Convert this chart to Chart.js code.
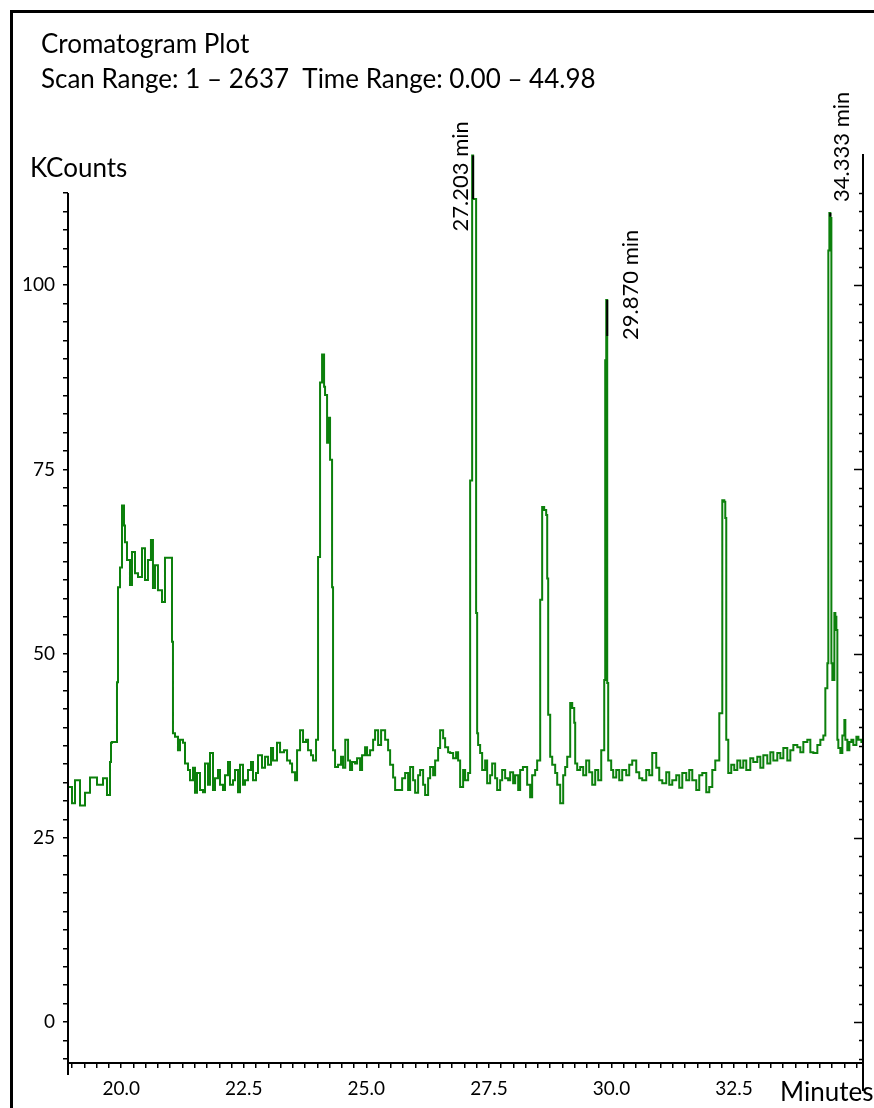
<!DOCTYPE html>
<html>
<head>
<meta charset="utf-8">
<script src="https://cdn.jsdelivr.net/npm/chart.js@4"></script>
<style>
  html, body { margin: 0; padding: 0; background: #fff; }
  #wrap { position: relative; width: 874px; height: 1108px; }
</style>
</head>
<body>
<div id="wrap"><canvas id="chart"></canvas></div>
<script>
// retention time (min) and intensity (KCounts)
const times = [
  18.915, 18.997, 19.058, 19.160, 19.262, 19.364, 19.507, 19.629, 19.710, 19.772,
  19.792, 19.813, 19.914, 19.935, 19.976, 20.016, 20.057, 20.077, 20.118, 20.179,
  20.220, 20.281, 20.343, 20.424, 20.485, 20.546, 20.607, 20.648, 20.689, 20.750,
  20.832, 20.893, 20.934, 21.036, 21.056, 21.097, 21.158, 21.199, 21.260, 21.301,
  21.362, 21.403, 21.464, 21.505, 21.546, 21.607, 21.668, 21.709, 21.770, 21.811,
  21.872, 21.913, 21.974, 22.015, 22.076, 22.117, 22.178, 22.219, 22.280, 22.321,
  22.382, 22.423, 22.484, 22.525, 22.586, 22.647, 22.688, 22.749, 22.790, 22.872,
  22.934, 22.995, 23.056, 23.097, 23.178, 23.240, 23.321, 23.383, 23.444, 23.485,
  23.546, 23.587, 23.648, 23.709, 23.770, 23.811, 23.872, 23.913, 23.974, 24.015,
  24.056, 24.097, 24.138, 24.158, 24.199, 24.219, 24.260, 24.301, 24.321, 24.362,
  24.423, 24.484, 24.525, 24.570, 24.627, 24.668, 24.709, 24.770, 24.811, 24.872,
  24.913, 24.974, 25.015, 25.076, 25.138, 25.178, 25.240, 25.301, 25.383, 25.444,
  25.485, 25.546, 25.587, 25.648, 25.730, 25.791, 25.852, 25.893, 25.954, 25.995,
  26.056, 26.097, 26.158, 26.199, 26.260, 26.301, 26.362, 26.403, 26.464, 26.505,
  26.566, 26.607, 26.668, 26.709, 26.770, 26.831, 26.872, 26.913, 26.974, 27.015,
  27.076, 27.117, 27.158, 27.178, 27.219, 27.239, 27.260, 27.280, 27.321, 27.362,
  27.423, 27.464, 27.525, 27.566, 27.627, 27.668, 27.729, 27.770, 27.831, 27.892,
  27.933, 27.994, 28.035, 28.097, 28.137, 28.194, 28.280, 28.341, 28.382, 28.443,
  28.484, 28.546, 28.586, 28.627, 28.668, 28.689, 28.709, 28.750, 28.791, 28.852,
  28.893, 28.954, 29.015, 29.056, 29.097, 29.158, 29.199, 29.240, 29.260, 29.301,
  29.362, 29.423, 29.484, 29.546, 29.607, 29.668, 29.729, 29.791, 29.852, 29.872,
  29.893, 29.913, 29.933, 29.994, 30.035, 30.097, 30.158, 30.219, 30.301, 30.362,
  30.423, 30.505, 30.566, 30.627, 30.709, 30.770, 30.831, 30.913, 30.974, 31.036,
  31.117, 31.178, 31.240, 31.321, 31.382, 31.444, 31.525, 31.586, 31.648, 31.729,
  31.790, 31.852, 31.933, 31.994, 32.056, 32.117, 32.199, 32.260, 32.301, 32.321,
  32.341, 32.382, 32.443, 32.504, 32.566, 32.627, 32.688, 32.749, 32.831, 32.892,
  32.974, 33.036, 33.097, 33.178, 33.240, 33.301, 33.382, 33.444, 33.505, 33.586,
  33.648, 33.709, 33.790, 33.852, 33.913, 33.994, 34.056, 34.117, 34.199, 34.260,
  34.321, 34.362, 34.403, 34.423, 34.444, 34.464, 34.485, 34.505, 34.546, 34.566,
  34.587, 34.607, 34.627, 34.668, 34.709, 34.750, 34.770, 34.811, 34.852, 34.893,
  34.933, 34.995, 35.036, 35.097, 35.130
];
const kcounts = [
  30.1, 31.9, 29.7, 32.8, 29.4, 31.1, 33.2, 32.2, 33.1, 30.8,
  35.3, 37.9, 38.0, 46.1, 59.0, 61.7, 70.1, 67.4, 65.1, 62.7,
  59.3, 63.8, 60.9, 60.4, 64.3, 60.0, 62.7, 65.4, 58.9, 62.0,
  58.6, 57.0, 63.0, 63.0, 51.6, 39.2, 38.7, 36.9, 38.3, 37.9,
  35.1, 34.2, 32.8, 34.5, 31.1, 33.8, 31.5, 31.2, 35.1, 32.2,
  36.5, 31.5, 33.1, 34.2, 32.2, 31.5, 33.5, 35.3, 32.2, 32.8,
  34.2, 31.2, 34.9, 32.2, 32.8, 34.2, 35.3, 32.8, 33.8, 36.2,
  34.5, 36.0, 34.9, 37.2, 35.5, 37.9, 36.6, 36.9, 35.5, 35.1,
  33.9, 32.8, 36.9, 39.6, 38.0, 38.3, 36.9, 36.2, 35.5, 38.3,
  63.1, 86.8, 90.6, 86.2, 85.1, 78.6, 82.0, 76.3, 59.0, 36.9,
  34.6, 34.9, 36.0, 34.5, 38.3, 35.5, 34.2, 35.3, 35.1, 35.8,
  34.2, 36.2, 37.3, 36.2, 36.9, 38.3, 39.6, 37.6, 39.6, 38.3,
  36.9, 34.9, 33.2, 31.5, 31.5, 33.1, 33.8, 31.5, 34.6, 32.8,
  31.1, 33.5, 34.2, 32.2, 30.8, 33.1, 34.6, 33.5, 35.5, 37.2,
  39.6, 38.5, 37.3, 36.6, 36.5, 35.8, 36.6, 35.5, 31.9, 34.2,
  32.8, 33.8, 73.5, 117.6, 111.7, 111.7, 55.5, 39.2, 37.6, 36.5,
  34.2, 35.5, 32.4, 33.5, 35.1, 33.1, 31.5, 32.8, 34.2, 33.1,
  32.8, 33.9, 32.4, 33.5, 31.5, 34.2, 34.6, 32.2, 30.5, 33.5,
  34.2, 35.5, 57.3, 69.9, 69.5, 68.8, 60.2, 41.7, 36.0, 34.9,
  33.8, 32.2, 29.7, 33.5, 34.6, 36.0, 43.3, 42.6, 40.6, 35.1,
  34.2, 34.6, 33.5, 35.5, 33.9, 32.2, 34.2, 32.8, 36.9, 46.4,
  89.8, 98.0, 46.0, 35.5, 34.2, 33.2, 34.2, 32.8, 34.2, 33.5,
  34.9, 35.5, 33.9, 33.1, 32.8, 34.2, 33.5, 36.5, 34.5, 32.8,
  32.4, 33.9, 32.2, 32.8, 33.5, 31.8, 33.8, 32.8, 34.2, 32.8,
  31.5, 33.5, 33.8, 31.2, 31.9, 34.2, 35.5, 41.9, 70.8, 70.6,
  68.4, 38.3, 33.8, 34.9, 34.2, 35.5, 34.5, 35.5, 34.2, 35.8,
  35.3, 36.0, 34.5, 36.2, 35.1, 36.6, 35.5, 36.5, 35.8, 37.2,
  35.5, 36.9, 37.6, 37.3, 36.6, 38.0, 38.3, 36.6, 36.5, 37.6,
  38.3, 38.9, 45.3, 48.7, 104.7, 109.8, 109.1, 48.7, 46.4, 55.5,
  55.0, 53.2, 38.3, 37.2, 36.5, 38.9, 41.0, 38.3, 36.9, 38.0,
  38.3, 37.6, 38.7, 38.3, 38.0
];

// annotated peaks
const peakLabels = ['27.203 min', '29.870 min', '34.333 min'];
const peakTimes = [27.178, 29.913, 34.464];
const peakTops = [117.6, 98.0, 109.8];
const peakMarkEnds = [111.7, 93.1, 109.3];

// axes
const xTickLabels = [20.0, 22.5, 25.0, 27.5, 30.0, 32.5];
const xMinorStep = 0.25;
const xRange = [18.915, 35.13];
const yTickLabels = [0, 25, 50, 75, 100];
const yMinorStep = 2.5;
const yRange = [-5.56, 117.8];

const FONT = 'Lato, "Open Sans", sans-serif';

function stepTicks(from, to, step) {
  const out = [];
  for (let v = from; v <= to + 1e-9; v += step) out.push({ value: Math.round(v * 100) / 100 });
  return out;
}
const isLabel = (list, v) => list.some(l => Math.abs(l - v) < 1e-6);

const extras = {
  id: 'extras',
  afterDraw(chart) {
    const { ctx, chartArea, scales } = chart;
    const x = scales.x, y = scales.y;
    ctx.save();

    // outer frame (left and top edges visible)
    ctx.fillStyle = '#000';
    ctx.fillRect(10, 10, 3, 1098);
    ctx.fillRect(10, 10, 864, 3);

    // left axis line
    ctx.strokeStyle = '#000';
    ctx.lineWidth = 2;
    ctx.beginPath();
    ctx.moveTo(chartArea.left, y.getPixelForValue(112.5));
    ctx.lineTo(chartArea.left, chartArea.bottom + 12);
    ctx.stroke();

    // right axis with inward ticks
    const rx = chartArea.right;
    ctx.beginPath();
    ctx.moveTo(rx, chartArea.top);
    ctx.lineTo(rx, chartArea.bottom + 28);
    ctx.stroke();
    ctx.lineWidth = 1.5;
    y.ticks.forEach(t => {
      const py = Math.round(y.getPixelForValue(t.value)) + 0.5;
      const len = isLabel(yTickLabels, t.value) ? 9 : 4;
      ctx.beginPath();
      ctx.moveTo(rx, py);
      ctx.lineTo(rx - len, py);
      ctx.stroke();
    });

    // apex markers
    ctx.lineWidth = 2;
    peakTimes.forEach((t, i) => {
      const px = x.getPixelForValue(t);
      ctx.beginPath();
      ctx.moveTo(px, y.getPixelForValue(peakTops[i]));
      ctx.lineTo(px, y.getPixelForValue(peakMarkEnds[i]));
      ctx.stroke();
    });

    // peak labels, rotated
    const labelShift = [[-12, 76], [24, 40], [12, -11]];
    ctx.fillStyle = '#000';
    ctx.font = '22px ' + FONT;
    ctx.textAlign = 'left';
    ctx.textBaseline = 'middle';
    peakLabels.forEach((txt, i) => {
      const px = x.getPixelForValue(peakTimes[i]) + labelShift[i][0];
      const py = y.getPixelForValue(peakTops[i]) + labelShift[i][1];
      ctx.save();
      ctx.translate(px, py);
      ctx.rotate(-Math.PI / 2);
      ctx.fillText(txt, 0, 0);
      ctx.restore();
    });

    // titles
    ctx.font = '26px ' + FONT;
    ctx.fillText('Cromatogram Plot', 41, 45);
    ctx.fillText('Scan Range: 1 \u2013 2637  Time Range: 0.00 \u2013 44.98', 41, 80);
    ctx.fillText('KCounts', 30, 169);
    ctx.fillText('Minutes', 780, 1093);
    ctx.restore();
  }
};

new Chart(document.getElementById('chart'), {
  type: 'line',
  data: {
    datasets: [{
      label: 'TIC',
      data: times.map((t, i) => ({ x: t, y: kcounts[i] })),
      borderColor: 'rgb(12,128,12)',
      borderWidth: 2,
      pointRadius: 0,
      stepped: 'after',
      fill: false
    }]
  },
  options: {
    responsive: true,
    maintainAspectRatio: false,
    animation: false,
    events: [],
    layout: { padding: { top: 154, right: 11, left: 0, bottom: 0 } },
    plugins: { legend: { display: false }, tooltip: { enabled: false } },
    scales: {
      x: {
        type: 'linear',
        min: xRange[0],
        max: xRange[1],
        afterBuildTicks: s => { s.ticks = stepTicks(19, 35, xMinorStep); },
        afterFit: s => { s.height = 45; },
        border: { display: true, color: '#000', width: 2 },
        grid: { drawOnChartArea: false, drawTicks: true, tickLength: 5, color: '#000', lineWidth: 1.5 },
        ticks: {
          autoSkip: false,
          maxRotation: 0,
          padding: 9,
          color: '#000',
          font: { family: FONT, size: 19 },
          callback: v => isLabel(xTickLabels, v) ? v.toFixed(1) : ''
        }
      },
      y: {
        type: 'linear',
        min: yRange[0],
        max: yRange[1],
        afterBuildTicks: s => { s.ticks = stepTicks(-5, 112.5, yMinorStep); },
        afterFit: s => { s.width = 68; },
        border: { display: false },
        grid: { drawOnChartArea: false, drawTicks: true, tickLength: 5, color: '#000', lineWidth: 1.5 },
        ticks: {
          autoSkip: false,
          padding: 8,
          color: '#000',
          font: { family: FONT, size: 19 },
          callback: v => isLabel(yTickLabels, v) ? String(v) : ''
        }
      }
    }
  },
  plugins: [extras]
});
</script>
</body>
</html>
